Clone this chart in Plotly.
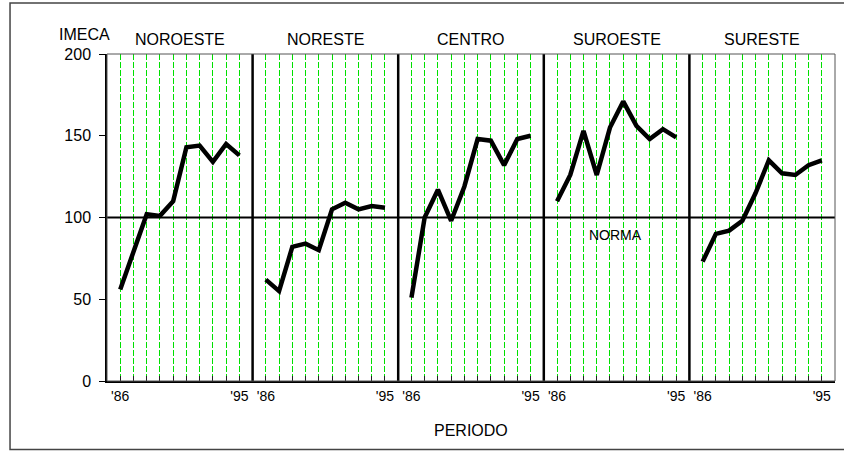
import plotly.graph_objects as go

regions = ["NOROESTE", "NORESTE", "CENTRO", "SUROESTE", "SURESTE"]
years = ["'86", "'87", "'88", "'89", "'90", "'91", "'92", "'93", "'94", "'95"]
noroeste = [56, 78, 102, 101, 110, 143, 144, 134, 145, 138]
noreste = [62, 55, 82, 84, 80, 105, 109, 105, 107, 106]
centro = [51, 100, 117, 98, 119, 148, 147, 132, 148, 150]
suroeste = [110, 126, 153, 126, 155, 171, 156, 148, 154, 149]
sureste = [73, 90, 92, 98, 115, 135, 127, 126, 132, 135]
series = [noroeste, noreste, centro, suroeste, sureste]
norma = 100
y_ticks = [0, 50, 100, 150, 200]

FONT = "Liberation Sans, Arial, sans-serif"
slot = len(years) + 1  # width of a panel in axis units

fig = go.Figure()
tickvals, ticktext = [], []
for i, (name, vals) in enumerate(zip(regions, series)):
    xs = [i * slot + j + 1 for j in range(len(years))]
    tickvals += xs
    ticktext += [years[0]] + [""] * (len(years) - 2) + [years[-1]]
    fig.add_trace(go.Scatter(x=xs, y=vals, mode="lines", name=name,
                             line=dict(color="black", width=4.5),
                             showlegend=False, hoverinfo="skip"))
    fig.add_annotation(x=i * slot + slot / 2, y=1.0, xref="x", yref="paper",
                       yanchor="bottom", yshift=4, text=name, showarrow=False,
                       font=dict(size=16, color="black", family=FONT))
    if i > 0:
        fig.add_shape(type="line", xref="x", yref="paper", x0=i * slot, x1=i * slot,
                      y0=0, y1=1, line=dict(color="black", width=2.5))

n_total = slot * len(regions)
fig.add_shape(type="line", xref="x", yref="y", x0=0, x1=n_total, y0=norma, y1=norma,
              line=dict(color="black", width=2))
fig.add_shape(type="rect", xref="paper", yref="paper", x0=0, x1=1, y0=0, y1=1,
              line=dict(color="#555555", width=1))
# outer frame
fig.add_shape(type="rect", xref="paper", yref="paper", x0=-0.1332, x1=1.1,
              y0=-0.2095, y1=1.156, line=dict(color="#444444", width=1.5))

fig.add_annotation(x=3 * slot + 5.4, y=89, xref="x", yref="y", text="NORMA",
                   showarrow=False, font=dict(size=14, color="black", family=FONT))
fig.add_annotation(x=-0.068, y=1.06, xref="paper", yref="paper", yanchor="middle",
                   text="IMECA", showarrow=False,
                   font=dict(size=16, color="black", family=FONT))
fig.add_annotation(x=0.5, y=-0.15, xref="paper", yref="paper", yanchor="middle",
                   text="PERIODO", showarrow=False,
                   font=dict(size=16, color="black", family=FONT))

fig.update_layout(
    width=844, height=452,
    margin=dict(l=107, r=9, t=54, b=71),
    paper_bgcolor="white", plot_bgcolor="white",
    font=dict(family=FONT, color="black"),
    xaxis=dict(range=[0, n_total], tickvals=tickvals, ticktext=ticktext,
               showgrid=True, gridcolor="#00e000", gridwidth=1, griddash="6px,2px",
               ticks="inside", ticklen=5, tickcolor="#222222", tickwidth=1,
               showline=True, linecolor="black", linewidth=2,
               tickfont=dict(size=14, family=FONT), ticklabelstandoff=1,
               zeroline=False),
    yaxis=dict(range=[0, 200], tickvals=y_ticks, showgrid=False, zeroline=False,
               ticks="outside", ticklen=6, tickcolor="black",
               showline=True, linecolor="black", linewidth=1.5,
               tickfont=dict(size=16, family=FONT), ticklabelstandoff=5),
)

fig.write_html("out.html", config={"displayModeBar": False},
               post_script="document.body.style.margin='0';")
